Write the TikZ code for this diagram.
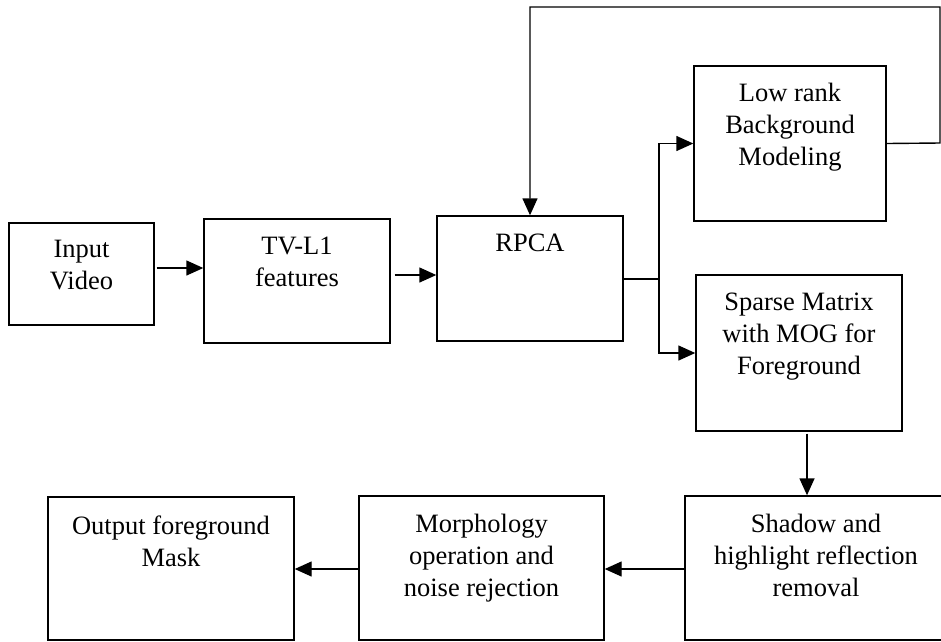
\documentclass[tikz,border=0pt]{standalone}
\usepackage{fontspec}
\setmainfont{Liberation Serif}
\usetikzlibrary{arrows.meta}
\begin{document}
\begin{tikzpicture}[x=1pt,y=-1pt,
  blk/.style={draw=black,line width=1.4pt,inner sep=0pt,rectangle},
  lbl/.style={anchor=north,inner sep=0pt,align=center,font=\fontsize{26.5}{32}\selectfont},
  arr/.style={line width=1.4pt,draw=black,-{Triangle[length=17pt,width=15pt]}},
  ln/.style={line width=1.4pt,draw=black}]
\useasboundingbox (0,0) rectangle (941,641);
\clip (0,0) rectangle (941,641);
% boxes
\node[blk,minimum width=145pt,minimum height=102pt] (in) at (81.5,274) {};
\node[blk,minimum width=186pt,minimum height=124pt] (tv) at (297,281) {};
\node[blk,minimum width=186pt,minimum height=125pt] (rpca) at (530,278.5) {};
\node[blk,minimum width=192pt,minimum height=155pt] (low) at (790,143.5) {};
\node[blk,minimum width=206pt,minimum height=156pt] (sparse) at (799,353) {};
\node[blk,minimum width=262pt,minimum height=144pt] (shadow) at (816,568) {};
\node[blk,minimum width=245pt,minimum height=144pt] (morph) at (481.5,568) {};
\node[blk,minimum width=246pt,minimum height=143pt] (out) at (171,568.5) {};
% texts
\node[lbl] (inT) at ([yshift=-18pt]in.north) {Input\\Video};
\node[lbl] (tvT) at ([yshift=-18pt]tv.north) {TV-L1\\features};
\node[lbl] (rpcaT) at ([yshift=-18pt]rpca.north) {RPCA};
\node[lbl] (lowT) at ([yshift=-18pt]low.north) {Low rank\\Background\\Modeling};
\node[lbl] (sparseT) at ([yshift=-18pt]sparse.north) {Sparse Matrix\\with MOG for\\Foreground};
\node[lbl] (shadowT) at ([yshift=-19pt]shadow.north) {Shadow and\\highlight reflection\\removal};
\node[lbl] (morphT) at ([yshift=-19pt]morph.north) {Morphology\\operation and\\noise rejection};
\node[lbl] (outT) at ([yshift=-19pt]out.north) {Output foreground\\Mask};
% helper coordinates
\coordinate (br) at (659,279);
\coordinate (fbR) at (940,143);
\coordinate (fbTR) at (940,7);
\coordinate (fbTL) at (530,7);
% connectors
\draw[arr,shorten <=2pt] (in.east |- 0,268) -- (tv.west |- 0,268);
\draw[arr,shorten <=4pt] (tv.east |- 0,275) -- (rpca.west |- 0,275);
\draw[ln] (rpca.east |- br) -- (br);
\draw[arr] (br) |- (low.west);
\draw[arr] (br) |- (sparse.west);
\draw[arr] (low.east) -- (fbR) -- (fbTR) -- (fbTL) -- (rpca.north -| fbTL);
\draw[arr,shorten <=2pt] (sparse.south -| 807,0) -- (shadow.north -| 807,0);
\draw[arr] (shadow.west |- 0,569) -- (morph.east |- 0,569);
\draw[arr] (morph.west |- 0,569) -- (out.east |- 0,569);
\end{tikzpicture}
\end{document}
